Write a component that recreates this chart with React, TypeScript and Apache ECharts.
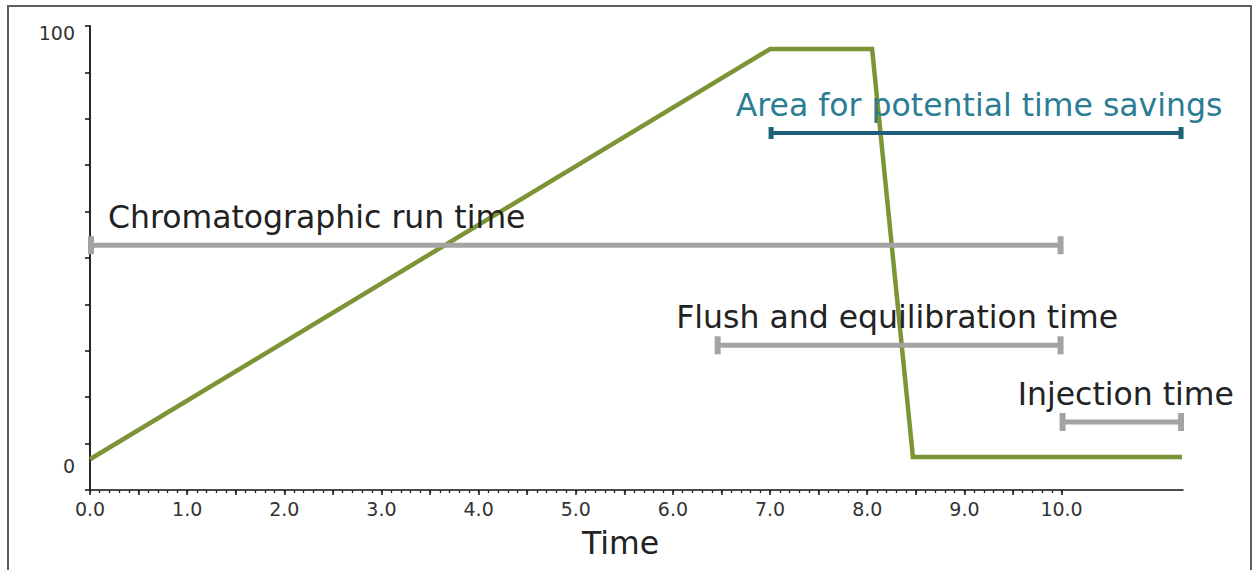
import React, { useEffect, useRef } from "react";
import * as echarts from "echarts";

// Gradient profile (time, % strong solvent)
const gradientTime = [0.0, 7.0, 8.05, 8.47, 11.24];
const gradientValue = [1.6, 96.3, 96.3, 2.1, 2.1];

// Annotated time ranges
const rangeNames = [
  "Area for potential time savings",
  "Chromatographic run time",
  "Flush and equilibration time",
  "Injection time",
];
const rangeStart = [7.0, 0.0, 6.45, 10.0];
const rangeEnd = [11.24, 10.0, 10.0, 11.24];
const rangeLevel = [76.9, 51.0, 27.9, 10.2];

// Axis labels
const xTickLabels = ["0.0", "1.0", "2.0", "3.0", "4.0", "5.0", "6.0", "7.0", "8.0", "9.0", "10.0"];
const yTickLabels = ["0", "100"];
const xAxisTitle = "Time";

// styles (per range)
const rangeLineColor = ["#1d607c", "#a3a3a3", "#a3a3a3", "#a3a3a3"];
const rangeTextColor = ["#2a7d94", "#222222", "#222222", "#222222"];
const rangeLineWidth = [4, 5, 5, 5];
const rangeCapW = [5, 6, 6, 6];
const rangeCapH = [12, 18, 18, 18];
const rangeAlign = ["center", "left", "center", "center"];
const rangeDx = [3, 18, 8, 4];

const FONT = "'DejaVu Sans', Verdana, sans-serif";

export default function App() {
  const ref = useRef<HTMLDivElement>(null);

  useEffect(() => {
    if (!ref.current) return;
    const chart = echarts.init(ref.current, undefined, { renderer: "svg" });

    const xLabelValues = xTickLabels.map((s) => parseFloat(s));
    const majorTicks: number[] = [];
    for (let i = 0; i <= 20; i++) majorTicks.push(i * 0.5);
    const minorTicks: number[] = [];
    for (let i = 0; i <= 100; i++) minorTicks.push(i / 10);

    const rangeData = rangeNames.map((n, i) => [rangeStart[i], rangeEnd[i], rangeLevel[i]]);
    const lineData = gradientTime.map((t, i) => [t, gradientValue[i]]);

    const option: any = {
      animation: false,
      grid: { left: 90, right: 70, top: 26, bottom: 80, containLabel: false },
      xAxis: [
        {
          type: "value",
          min: 0,
          max: 11.25,
          position: "bottom",
          axisLine: { show: true, onZero: false, lineStyle: { color: "#111", width: 1.5 } },
          axisTick: { show: true, customValues: majorTicks, length: 5, inside: false, lineStyle: { color: "#111", width: 1.5 } },
          axisLabel: {
            customValues: xLabelValues,
            formatter: (v: number) => xTickLabels[xLabelValues.indexOf(v)] ?? v.toFixed(1),
            fontSize: 19,
            fontFamily: FONT,
            color: "#333",
            margin: 9,
          },
          splitLine: { show: false },
          name: xAxisTitle,
          nameLocation: "middle",
          nameGap: 37,
          nameTextStyle: { fontSize: 31.5, fontFamily: FONT, color: "#222", padding: [0, 32, 0, 0] },
        },
        {
          type: "value",
          min: 0,
          max: 11.25,
          position: "bottom",
          axisLine: { show: false, onZero: false },
          axisTick: { show: true, customValues: minorTicks, length: 3, inside: false, lineStyle: { color: "#222", width: 1.3 } },
          axisLabel: { show: false },
          splitLine: { show: false },
        },
      ],
      yAxis: [
        {
          type: "value",
          min: -5.5,
          max: 101.6,
          position: "left",
          axisLine: { show: false, onZero: false },
          axisTick: { show: false },
          axisLabel: {
            customValues: yTickLabels.map((s) => parseFloat(s)),
            fontSize: 19,
            fontFamily: FONT,
            color: "#333",
            margin: 15,
          },
          splitLine: { show: false },
        },
        {
          type: "value",
          min: 0,
          max: 10,
          interval: 1,
          position: "left",
          axisLine: { show: true, onZero: false, lineStyle: { color: "#111", width: 1.8 } },
          axisTick: { show: true, length: 5, inside: false, lineStyle: { color: "#111", width: 1.5 } },
          axisLabel: { show: false },
          splitLine: { show: false },
        },
      ],
      series: [
        {
          type: "line",
          xAxisIndex: 0,
          yAxisIndex: 0,
          data: lineData,
          showSymbol: false,
          symbol: "none",
          lineStyle: { color: "#7b9436", width: 4.5, join: "miter" },
          z: 2,
        },
        {
          type: "custom",
          xAxisIndex: 0,
          yAxisIndex: 0,
          data: rangeData,
          z: 3,
          renderItem: (params: any, api: any) => {
            const i = params.dataIndex;
            const s = api.coord([api.value(0), api.value(2)]);
            const e = api.coord([api.value(1), api.value(2)]);
            const cw = rangeCapW[i];
            const ch = rangeCapH[i];
            const col = rangeLineColor[i];
            const align = rangeAlign[i];
            const tx = align === "left" ? s[0] + rangeDx[i] : (s[0] + e[0]) / 2 + rangeDx[i];
            return {
              type: "group",
              children: [
                {
                  type: "line",
                  shape: { x1: s[0], y1: s[1], x2: e[0], y2: e[1] },
                  style: { stroke: col, lineWidth: rangeLineWidth[i] },
                },
                {
                  type: "rect",
                  shape: { x: s[0] - cw / 2 + 1, y: s[1] - ch / 2, width: cw, height: ch },
                  style: { fill: col },
                },
                {
                  type: "rect",
                  shape: { x: e[0] - cw / 2 - 1, y: e[1] - ch / 2, width: cw, height: ch },
                  style: { fill: col },
                },
                {
                  type: "text",
                  x: tx,
                  y: s[1] - 28,
                  style: {
                    text: rangeNames[i],
                    fill: rangeTextColor[i],
                    fontSize: 31.5,
                    fontFamily: FONT,
                    align: align,
                    verticalAlign: "middle",
                  },
                },
              ],
            };
          },
        },
      ],
    };

    chart.setOption(option);
    return () => chart.dispose();
  }, []);

  return (
    <div style={{ position: "fixed", left: 0, top: 0, width: 1253, height: 570, background: "#fff", overflow: "hidden" }}>
      <div ref={ref} style={{ position: "absolute", left: 0, top: 0, width: 1253, height: 570 }} />
      <div
        style={{
          position: "absolute",
          left: 7,
          top: 5,
          width: 1241,
          height: 600,
          border: "2px solid #5e5e5e",
          borderBottom: "none",
          pointerEvents: "none",
        }}
      />
    </div>
  );
}
